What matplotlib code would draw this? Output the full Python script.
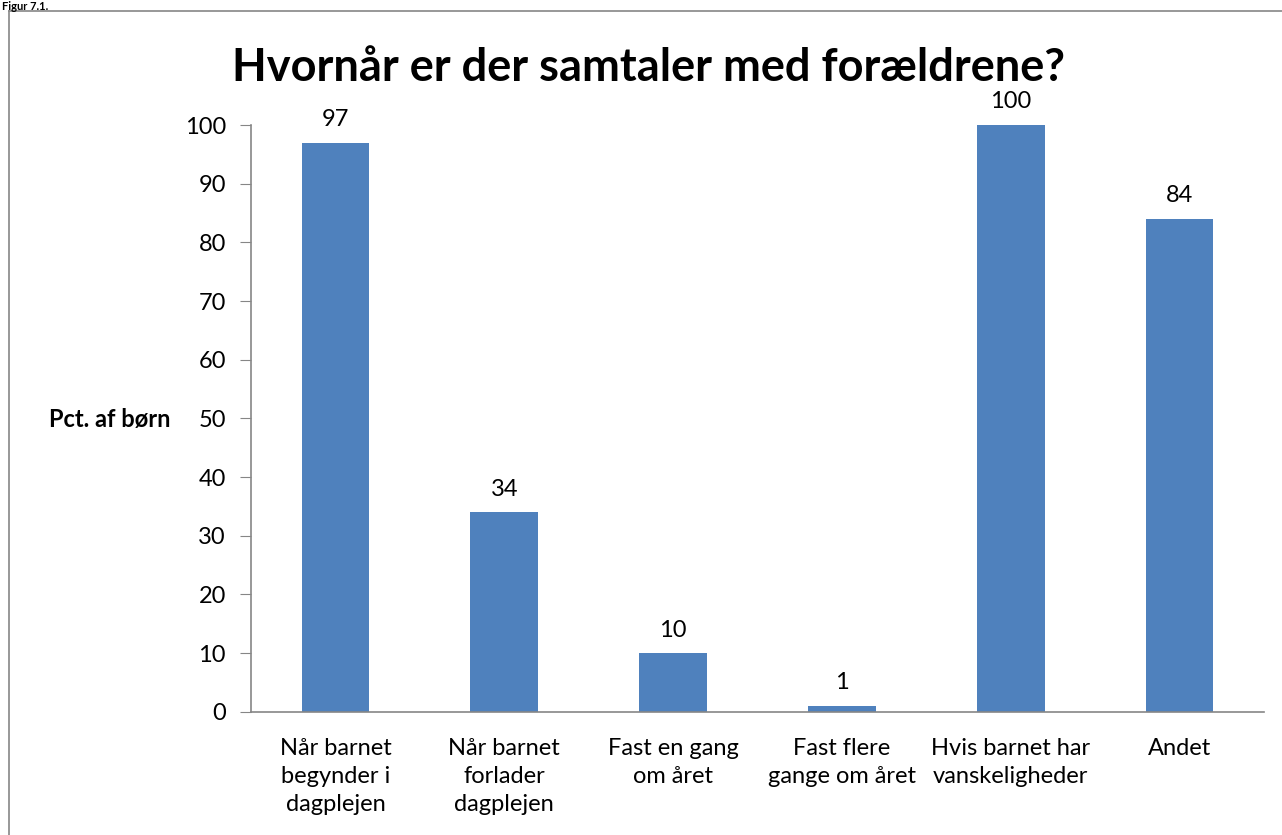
import matplotlib.pyplot as plt
from matplotlib.lines import Line2D

# data
categories = ['Når barnet\nbegynder i\ndagplejen', 'Når barnet\nforlader\ndagplejen',
              'Fast en gang\nom året', 'Fast flere\ngange om året',
              'Hvis barnet har\nvanskeligheder', 'Andet']
values = [97, 34, 10, 1, 100, 84]
yticks = [0, 10, 20, 30, 40, 50, 60, 70, 80, 90, 100]

plt.rcParams['font.family'] = ['Lato', 'DejaVu Sans']

fig = plt.figure(figsize=(12.82, 8.35), dpi=100)
ax = fig.add_axes([251/1282, 1 - 711.7/835, (1264 - 251)/1282, (711.7 - 125)/835])

x = range(len(categories))
ax.bar(x, values, width=0.4, color='#4F81BD')
for xi, v in zip(x, values):
    ax.annotate(str(v), (xi, v), xytext=(0, 9), textcoords='offset points',
                ha='center', va='bottom', fontsize=17)

ax.set_xlim(-0.5, len(categories) - 0.5)
ax.set_ylim(0, 100)
ax.set_yticks(yticks)
ax.set_xticks(list(x))
ax.set_xticklabels(categories, fontsize=17, linespacing=1.4)
ax.tick_params(axis='x', length=0, pad=19)
ax.tick_params(axis='y', length=8, color='#868686', labelsize=17, pad=10)
for s in ['top', 'right']:
    ax.spines[s].set_visible(False)
for s in ['left', 'bottom']:
    ax.spines[s].set_color('#868686')
    ax.spines[s].set_linewidth(1.2)

fig.text(110/1282, 1 - 419/835, 'Pct. af børn', fontsize=17, fontweight='bold',
         ha='center', va='center')
fig.text(648/1282, 1 - 68/835, 'Hvornår er der samtaler med forældrene?',
         fontsize=32.5, fontweight='bold', ha='center', va='center')
fig.text(2/1282, 1 - 0.5/835, 'Figur 7.1.', fontsize=8, fontweight='bold',
         ha='left', va='top')

# frame around the chart
fig.add_artist(Line2D([8.5/1282, 8.5/1282], [0, 1 - 11/835], color='#868686', lw=1.2))
fig.add_artist(Line2D([8.5/1282, 1], [1 - 11/835, 1 - 11/835], color='#868686', lw=1.2))

fig.savefig('out.png', dpi=100)
